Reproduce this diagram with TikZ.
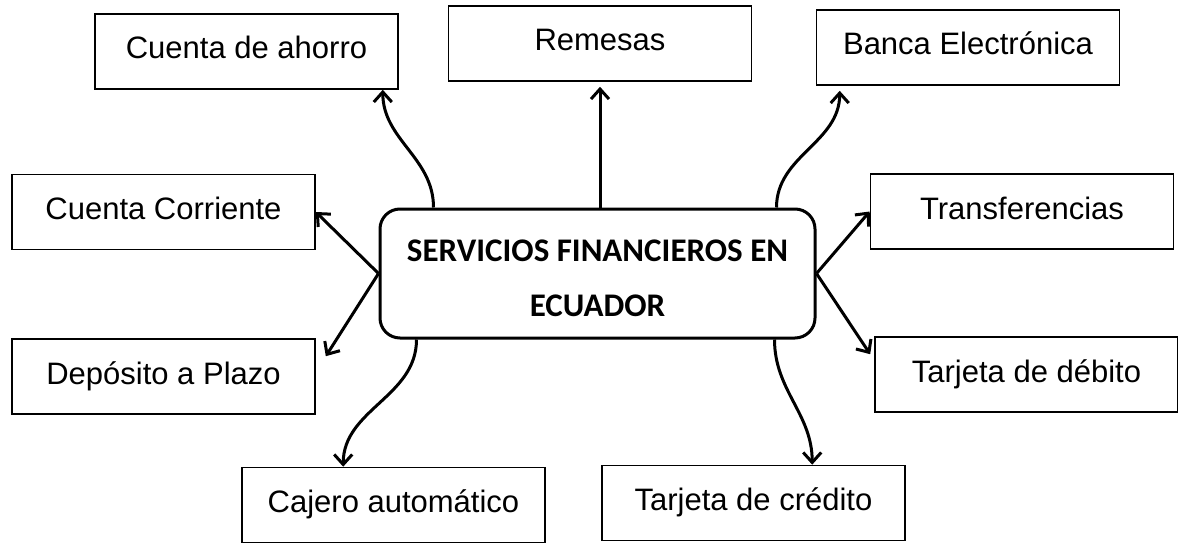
\documentclass[tikz,border=0pt]{standalone}
\usepackage{fontspec}
\setmainfont{Liberation Sans}
\newfontfamily\titlefont{Carlito}
\usetikzlibrary{arrows.meta}

\begin{document}
\begin{tikzpicture}[
    x=1pt, y=-1pt,
    item/.style={rectangle, draw=black, line width=1.6pt, inner sep=0pt,
                 minimum width=303pt, minimum height=75pt,
                 text height=22pt, text depth=7pt,
                 font=\fontsize{31}{37}\selectfont},
    hub/.style={rectangle, rounded corners=20pt, draw=black, line width=3pt,
                minimum width=435pt, minimum height=129pt, align=center,
                font=\titlefont\bfseries\fontsize{33}{55}\selectfont},
    link/.style={draw=black, line width=3pt, -{Straight Barb[length=10pt,width=18pt]}}
  ]
  \useasboundingbox (0,0) rectangle (1178,543);

  \node (center)    [hub]  at (597.5,273.5) {\rule{0pt}{31pt}SERVICIOS FINANCIEROS EN\\ECUADOR};

  \node (ahorro)    [item] at (246.5,51.5)  {Cuenta de ahorro};
  \node (remesas)   [item] at (600,43.5)    {Remesas};
  \node (banca)     [item] at (968,47.5)    {Banca Electrónica};

  \node (corriente) [item] at (163.5,212)   {Cuenta Corriente};
  \node (transf)    [item] at (1022,211.5)  {Transferencias};

  \node (deposito)  [item] at (163.5,376.5) {Depósito a Plazo};
  \node (debito)    [item] at (1026.5,374.5) {Tarjeta de débito};

  \node (cajero)    [item] at (393.5,505)   {Cajero automático};
  \node (credito)   [item] at (753.5,503)   {Tarjeta de crédito};

  \path  (center.north -| remesas.south)  edge [link]  ([yshift=-5pt]remesas.south);

  \path  ([xshift=55pt]center.north west)
           edge [link,out=90,in=-90]  ([xshift=-16pt]ahorro.south east);
  \path  ([xshift=-40pt]center.north east)
           edge [link,out=90,in=-90]  ([xshift=24pt,yshift=-5pt]banca.south west);

  \path  (center.west)   edge [link]  (corriente.east)
                         edge [link]  ([xshift=10pt,yshift=-18pt]deposito.north east);
  \path  (center.east)   edge [link]  (transf.west)
                         edge [link]  ([xshift=-4pt,yshift=-18pt]debito.north west);

  \path  ([xshift=38pt]center.south west)
           edge [link,out=-90,in=90]  ([xshift=102pt]cajero.north west);
  \path  ([xshift=-42pt]center.south east)
           edge [link,out=-90,in=90]  ([xshift=211pt]credito.north west);
\end{tikzpicture}
\end{document}
